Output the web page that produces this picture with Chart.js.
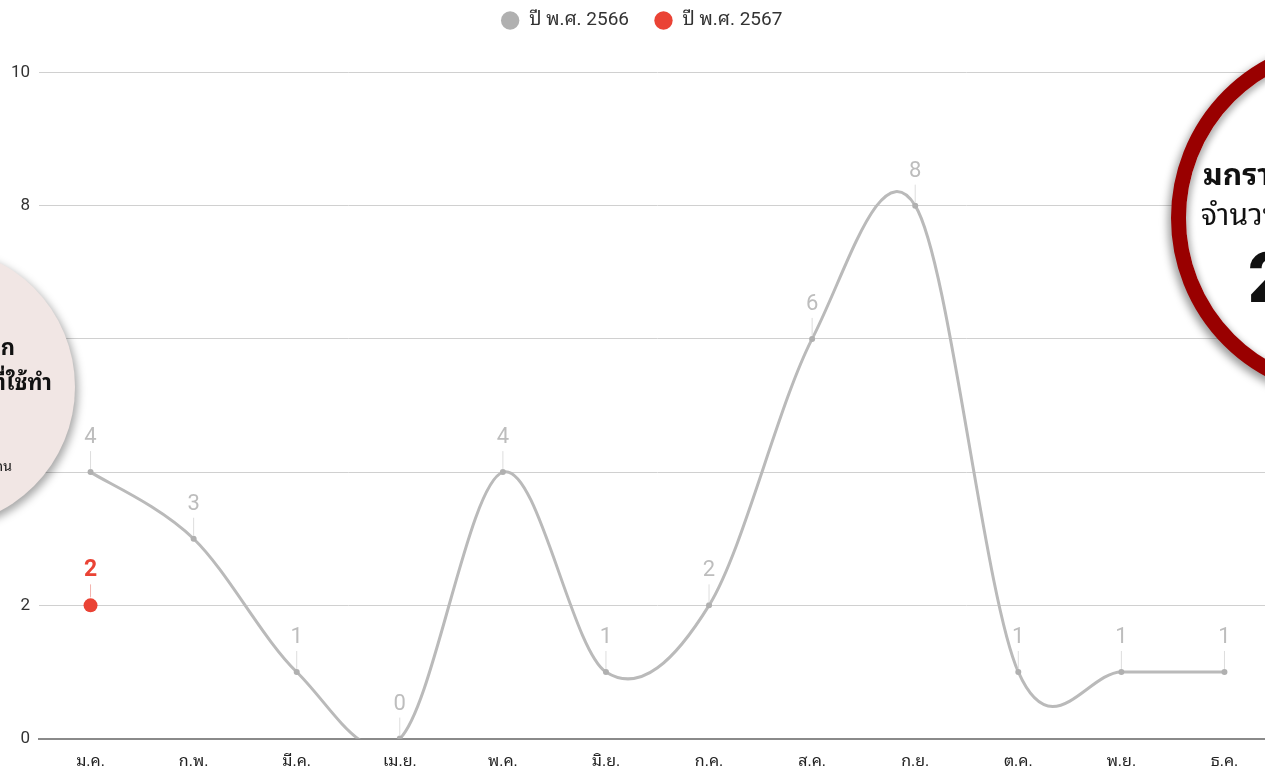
<!DOCTYPE html>
<html>
<head>
<meta charset="utf-8">
<script src="https://cdn.jsdelivr.net/npm/chart.js@4"></script>
<style>
  html, body { margin: 0; padding: 0; background: #fff; overflow: hidden; width: 1265px; height: 768px; }
  body { position: relative; font-family: Tahoma, 'Noto Sans Thai Looped', Loma, Garuda, 'Noto Sans Thai', 'Noto Sans', sans-serif; }
  #wrap { position: absolute; left: 0; top: 0; width: 1283px; height: 768px; }
  .bubble { position: absolute; border-radius: 50%; box-sizing: border-box; overflow: hidden; }
  #left-bubble { left: -205px; top: 247px; width: 280px; height: 280px; background: #f1e6e4;
    box-shadow: 3px 4px 8px rgba(0,0,0,0.35); }
  #right-bubble { left: 1171px; top: 38px; width: 360px; height: 360px; background: #fff;
    border: 15px solid #990000; box-shadow: -3px 4px 8px rgba(0,0,0,0.4), inset 3px 3px 6px rgba(0,0,0,0.3); }
  .txt { position: absolute; white-space: nowrap; color: #111; line-height: 1; }
</style>
</head>
<body>
<div id="wrap"><canvas id="chart" width="1283" height="768"></canvas></div>

<div id="left-bubble" class="bubble"></div>
<div class="txt" style="right:1250px; top:334px; font-size:22px; font-weight:bold;">สถิติการใช้สารเคมีทางการเกษตรจาก</div>
<div class="txt" style="right:1213px; top:369px; font-size:22px; font-weight:bold;">ผลิตภัณฑ์ที่ใช้ทำ</div>
<div class="txt" style="right:1253px; top:458px; font-size:14px;">หน่วย : คน</div>

<div id="right-bubble" class="bubble"></div>
<div class="txt" style="left:1203px; top:157px; font-size:30px; font-weight:bold;">มกราคม 2567</div>
<div class="txt" style="left:1201px; top:197px; font-size:30px;">จำนวนผู้ป่วย</div>
<div class="txt" style="left:1248px; top:243px; font-size:70px; font-weight:900; font-family:Roboto, sans-serif;">2</div>

<script>
'use strict';

/* ── DATA ── */
const months = ['ม.ค.', 'ก.พ.', 'มี.ค.', 'เม.ย.', 'พ.ค.', 'มิ.ย.', 'ก.ค.', 'ส.ค.', 'ก.ย.', 'ต.ค.', 'พ.ย.', 'ธ.ค.'];
const year2566 = [4, 3, 1, 0, 4, 1, 2, 6, 8, 1, 1, 1];
const year2567 = [2, null, null, null, null, null, null, null, null, null, null, null];
const yTicks = [0, 2, 4, 6, 8, 10];

const FONT = "Roboto, Tahoma, 'Noto Sans Thai Looped', Loma, Garuda, 'Noto Sans Thai', 'Noto Sans', sans-serif";

/* ── Catmull-Rom style curve (the look of a "function" curve) ── */
const smoothCurve = {
  id: 'smoothCurve',
  beforeDatasetDraw(chart, args) {
    const meta = args.meta;
    if (meta.index !== 0) return;
    const line = meta.dataset;
    const pts = meta.data;
    line._pointsUpdated = true; // keep our own control points
    pts.forEach((p, i) => {
      const prev = pts[i - 1] || p;
      const next = pts[i + 1] || p;
      const dx = (next.x - prev.x) / 6;
      const dy = (next.y - prev.y) / 6;
      p.cp1x = p.x - dx; p.cp1y = p.y - dy;
      p.cp2x = p.x + dx; p.cp2y = p.y + dy;
    });
  }
};

/* ── value labels with a short stem above each point ── */
const valueLabels = {
  id: 'valueLabels',
  afterDatasetsDraw(chart) {
    const ctx = chart.ctx;
    chart.data.datasets.forEach((ds, di) => {
      const meta = chart.getDatasetMeta(di);
      meta.data.forEach((pt, i) => {
        const v = ds.data[i];
        if (v === null || v === undefined) return;
        const red = di === 1;
        ctx.save();
        ctx.strokeStyle = red ? '#f3b3ad' : '#dddddd';
        ctx.lineWidth = 1;
        ctx.beginPath();
        ctx.moveTo(pt.x, pt.y - (red ? 8 : 3));
        ctx.lineTo(pt.x, pt.y - 21);
        ctx.stroke();
        ctx.fillStyle = red ? '#ea4335' : '#bdbdbd';
        ctx.font = (red ? 'bold 23px ' : '22px ') + FONT;
        ctx.textAlign = 'center';
        ctx.textBaseline = 'alphabetic';
        ctx.fillText(String(v), pt.x, pt.y - 29);
        ctx.restore();
      });
    });
  }
};

new Chart(document.getElementById('chart'), {
  type: 'line',
  data: {
    labels: months,
    datasets: [{
      label: 'ปี พ.ศ. 2566',
      data: year2566,
      borderColor: '#bababa',
      backgroundColor: '#bababa',
      borderWidth: 3,
      tension: 0.5,
      capBezierPoints: false,
      pointRadius: 3,
      pointBackgroundColor: '#b0b0b0',
      pointBorderWidth: 0
    }, {
      label: 'ปี พ.ศ. 2567',
      data: year2567,
      borderColor: '#ea4335',
      backgroundColor: '#ea4335',
      borderWidth: 3,
      pointRadius: 7,
      pointBorderWidth: 0
    }]
  },
  options: {
    responsive: false,
    animation: false,
    layout: { padding: { top: -14, bottom: -9, left: 0, right: 0 } },
    plugins: {
      tooltip: { enabled: false },
      legend: {
        position: 'top',
        labels: {
          usePointStyle: true,
          pointStyle: 'circle',
          boxWidth: 19,
          boxHeight: 13,
          padding: 25,
          color: '#333',
          font: { family: FONT, size: 19 }
        }
      },
      subtitle: {
        display: true,
        text: '',
        weight: 500,
        padding: { top: 0, bottom: 18 },
        font: { size: 12 }
      }
    },
    scales: {
      x: {
        offset: true,
        grid: { display: false },
        border: { display: true, color: '#8a8a8a', width: 2 },
        ticks: { color: '#222', padding: 8, font: { family: FONT, size: 16, lineHeight: 0.9 } }
      },
      y: {
        min: 0,
        max: 10,
        afterFit(scale) { scale.width = 39; },
        afterBuildTicks(scale) { scale.ticks = yTicks.map(v => ({ value: v })); },
        border: { display: false },
        grid: {
          color: ctx => ctx.tick && ctx.tick.value === 0 ? 'rgba(0,0,0,0)' : '#d0d0d0',
          lineWidth: 1,
          drawTicks: false
        },
        ticks: { color: '#333', padding: 9, font: { family: FONT, size: 17 } }
      }
    }
  },
  plugins: [smoothCurve, valueLabels]
});
</script>
</body>
</html>
